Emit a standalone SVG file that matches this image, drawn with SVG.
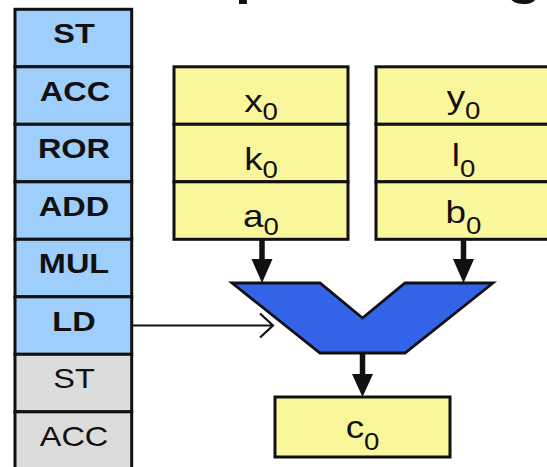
<svg xmlns="http://www.w3.org/2000/svg" width="547" height="467" viewBox="0 0 547 467">
  <style>
    .op { stroke: #111; stroke-width: 3; }
    .live { fill: #9ECEFB; }
    .done { fill: #DCDCDC; }
    .reg { fill: #FAF69C; stroke: #111; stroke-width: 3; }
    .mux { fill: #3363E6; stroke: #111; stroke-width: 2.8; stroke-linejoin: miter; }
    .t { font-family: "Liberation Sans", Arial, sans-serif; fill: #111; text-anchor: middle; }
    .opb { font-size: 28px; font-weight: bold; }
    .opr { font-size: 28px; }
    .var { font-size: 32px; }
    .sub { font-size: 24px; }
    .shaft { stroke: #111; stroke-width: 5.5; fill: none; }
    .head { fill: #111; }
    .ctl { stroke: #111; stroke-width: 2.2; fill: none; }
  </style>

  <!-- heading, mostly above the top edge -->
  <text class="t" style="font-size:50px;font-weight:bold;text-anchor:start" transform="translate(235,-6) scale(1.15,1)">processing</text>

  <!-- instruction stream -->
  <g id="instr-st-1">
    <rect class="op live" x="15" y="9.3" width="116.7" height="57.5"/>
    <text class="t opb" transform="translate(74,43) scale(1.16,1)">ST</text>
  </g>
  <g id="instr-acc-1">
    <rect class="op live" x="15" y="66.8" width="116.7" height="57.5"/>
    <text class="t opb" transform="translate(75,100.5) scale(1.16,1)">ACC</text>
  </g>
  <g id="instr-ror">
    <rect class="op live" x="15" y="124.3" width="116.7" height="57.5"/>
    <text class="t opb" transform="translate(74,158) scale(1.16,1)">ROR</text>
  </g>
  <g id="instr-add">
    <rect class="op live" x="15" y="181.8" width="116.7" height="57.5"/>
    <text class="t opb" transform="translate(74,215.5) scale(1.16,1)">ADD</text>
  </g>
  <g id="instr-mul">
    <rect class="op live" x="15" y="239.3" width="116.7" height="57.5"/>
    <text class="t opb" transform="translate(74,273) scale(1.16,1)">MUL</text>
  </g>
  <g id="instr-ld">
    <rect class="op live" x="15" y="296.8" width="116.7" height="57.5"/>
    <text class="t opb" transform="translate(74,330.5) scale(1.16,1)">LD</text>
  </g>
  <g id="instr-st-2">
    <rect class="op done" x="15" y="354.3" width="116.7" height="57.5"/>
    <text class="t opr" transform="translate(74,388) scale(1.16,1)">ST</text>
  </g>
  <g id="instr-acc-2">
    <rect class="op done" x="15" y="411.8" width="116.7" height="57.5"/>
    <text class="t opr" transform="translate(74,445.5) scale(1.16,1)">ACC</text>
  </g>

  <!-- left operand registers -->
  <g id="reg-x0">
    <rect class="reg" x="174" y="66.8" width="174" height="57.5"/>
    <text class="t var" transform="translate(261,112) scale(1.15,1)">x<tspan class="sub" dy="8">0</tspan></text>
  </g>
  <g id="reg-k0">
    <rect class="reg" x="174" y="124.3" width="174" height="57.5"/>
    <text class="t var" transform="translate(261,169.5) scale(1.15,1)">k<tspan class="sub" dy="8">0</tspan></text>
  </g>
  <g id="reg-a0">
    <rect class="reg" x="174" y="181.8" width="174" height="57.5"/>
    <text class="t var" transform="translate(261,227) scale(1.15,1)">a<tspan class="sub" dy="8">0</tspan></text>
  </g>

  <!-- right operand registers -->
  <g id="reg-y0">
    <rect class="reg" x="376" y="66.8" width="175" height="57.5"/>
    <text class="t var" transform="translate(463.5,108) scale(1.15,1)">y<tspan class="sub" dy="11">0</tspan></text>
  </g>
  <g id="reg-l0">
    <rect class="reg" x="376" y="124.3" width="175" height="57.5"/>
    <text class="t var" transform="translate(463.5,165.5) scale(1.15,1)">l<tspan class="sub" dy="11">0</tspan></text>
  </g>
  <g id="reg-b0">
    <rect class="reg" x="376" y="181.8" width="175" height="57.5"/>
    <text class="t var" transform="translate(463.5,223) scale(1.15,1)">b<tspan class="sub" dy="11">0</tspan></text>
  </g>

  <!-- functional unit -->
  <g id="alu">
    <polygon class="mux" points="232,283 320,283 362.5,318 405,283 493,283 405,353 320,353"/>
  </g>

  <!-- result register -->
  <g id="reg-c0">
    <rect class="reg" x="275" y="397" width="175" height="60"/>
    <text class="t var" transform="translate(362.5,438) scale(1.15,1)">c<tspan class="sub" dy="12">0</tspan></text>
  </g>

  <!-- data and control paths -->
  <g id="connectors">
    <line class="shaft" x1="262" y1="240" x2="262" y2="262"/>
    <polygon class="head" points="251.5,259 272.5,259 262,283"/>
    <line class="shaft" x1="463.5" y1="240" x2="463.5" y2="262"/>
    <polygon class="head" points="453,259 474,259 463.5,283"/>
    <line class="shaft" x1="362.5" y1="353" x2="362.5" y2="377"/>
    <polygon class="head" points="352,374 373,374 362.5,397"/>
    <line class="ctl" x1="131.7" y1="325.5" x2="272" y2="325.5"/>
    <polyline class="ctl" points="260,313.5 273,325.5 260,337.5" stroke-width="2.6"/>
  </g>
</svg>
